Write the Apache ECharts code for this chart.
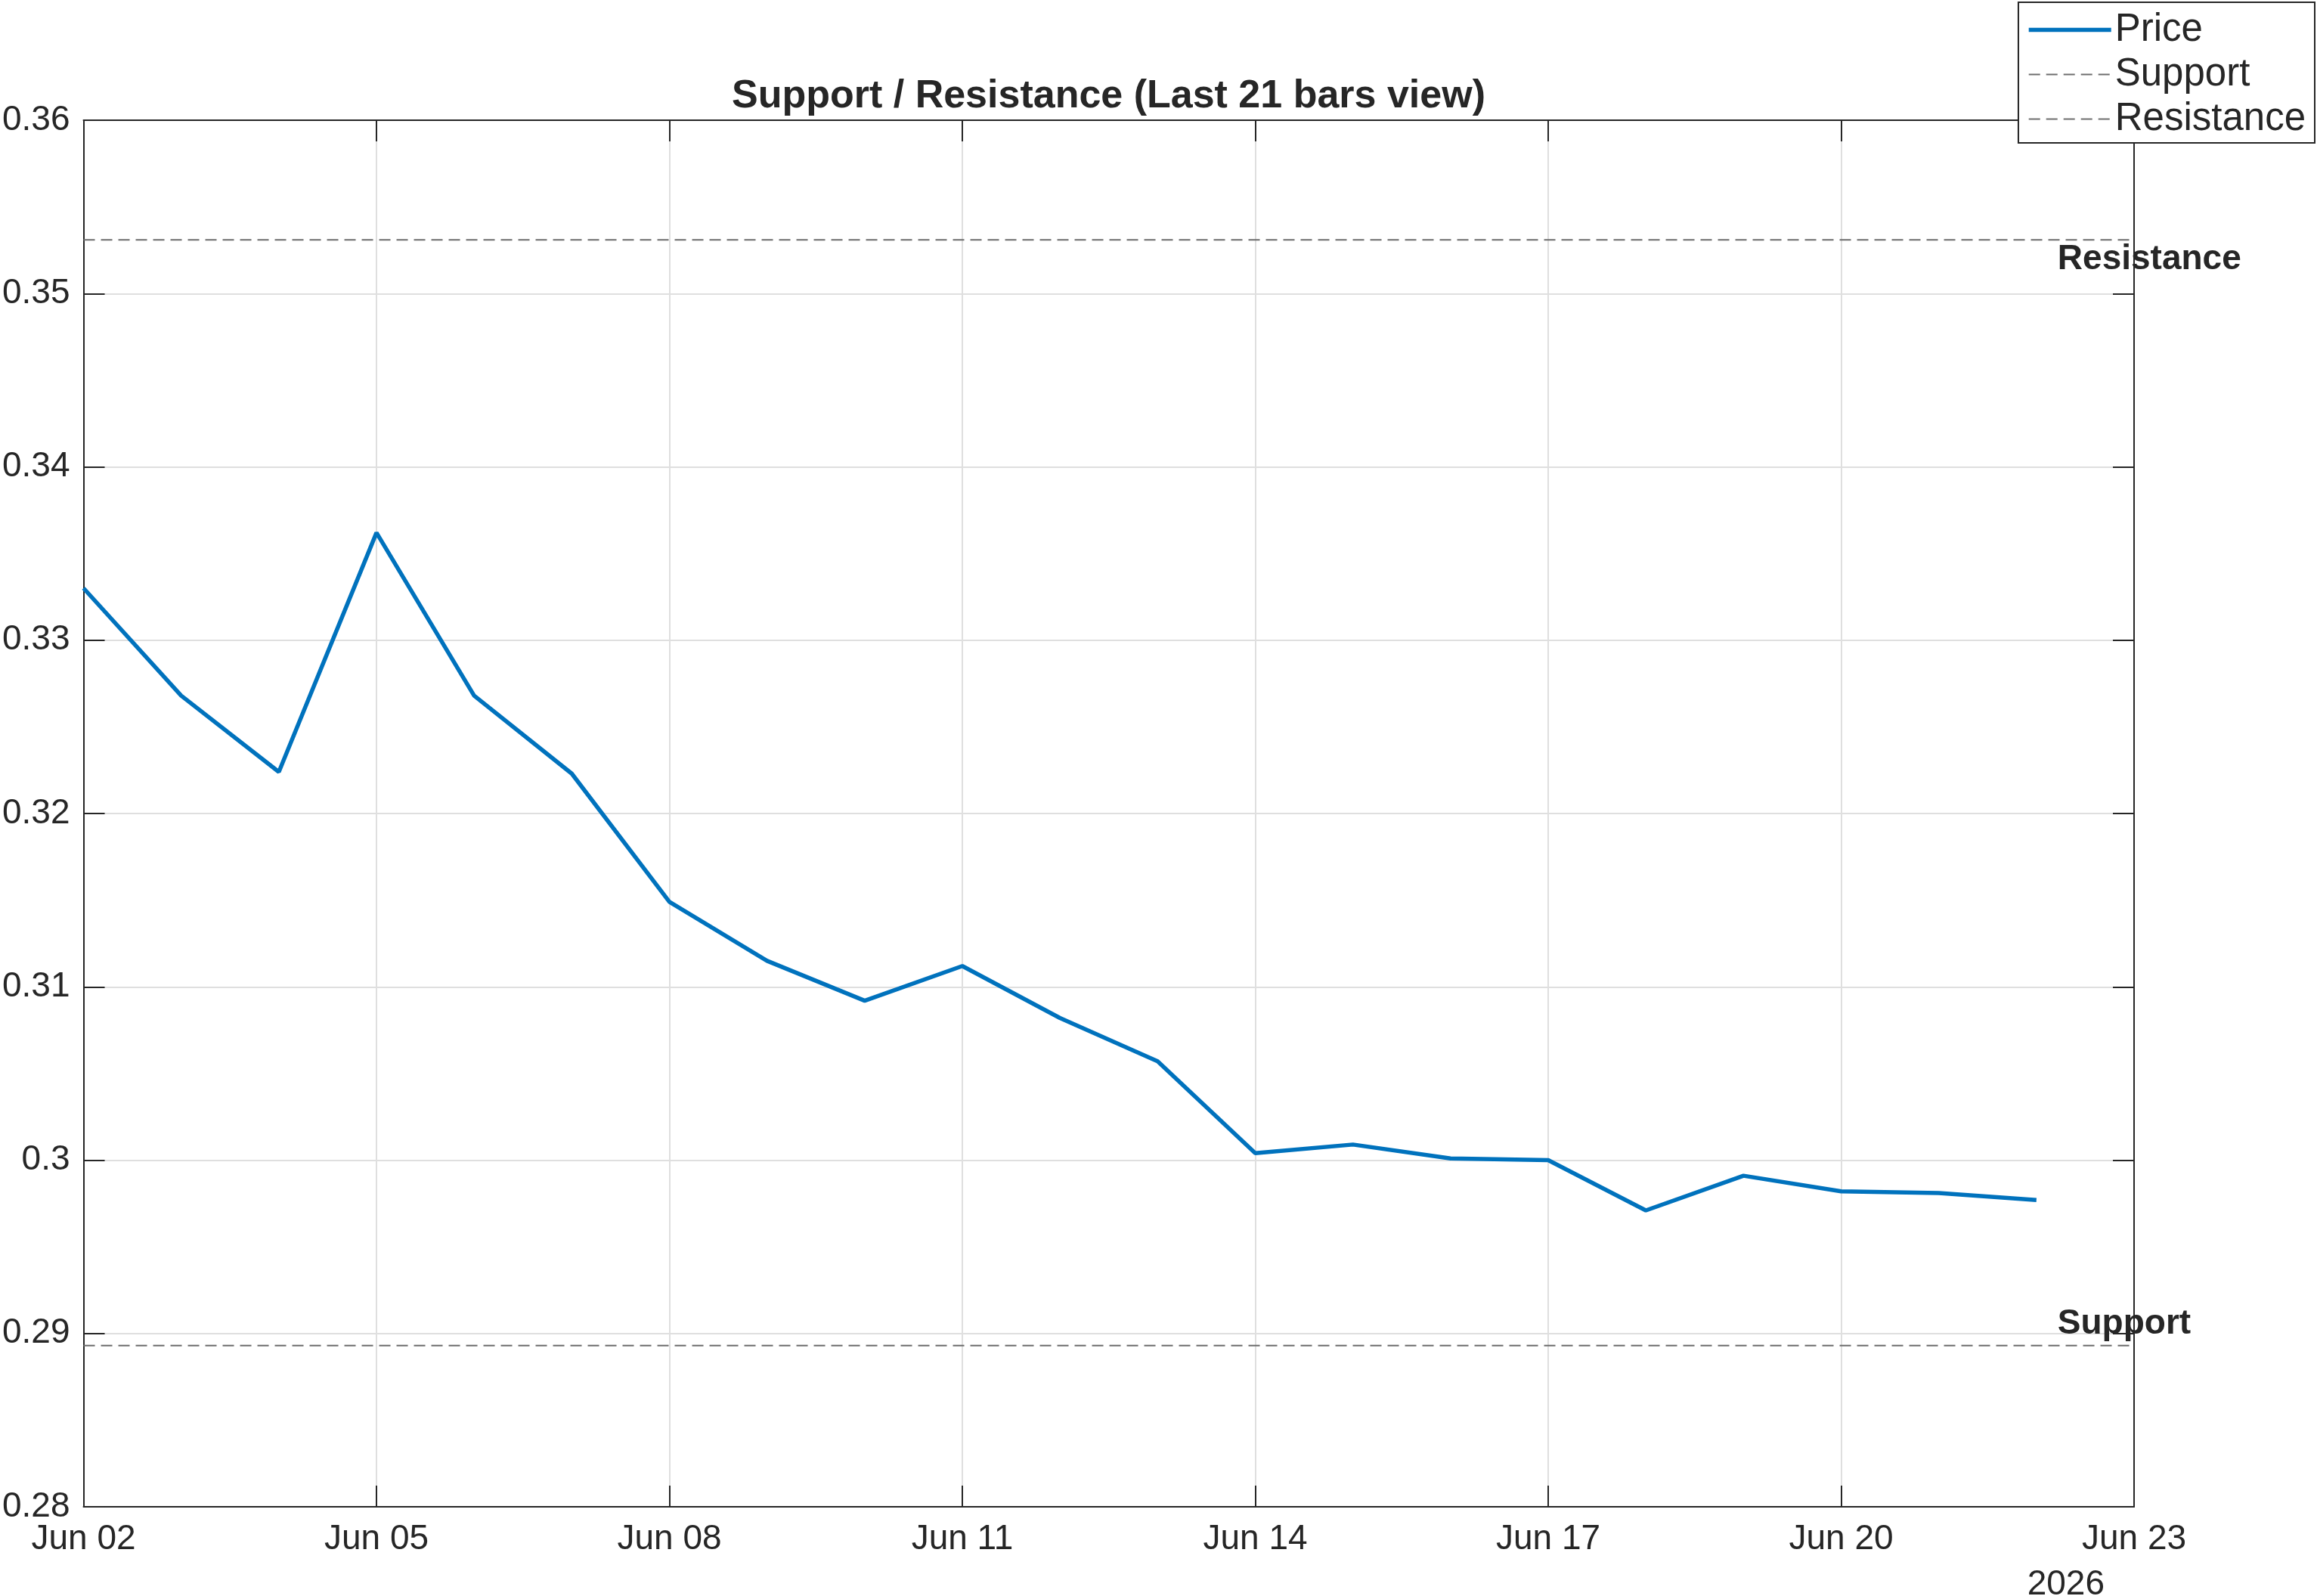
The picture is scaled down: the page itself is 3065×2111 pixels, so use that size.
<!DOCTYPE html>
<html>
<head>
<meta charset="utf-8">
<script src="https://cdn.jsdelivr.net/npm/echarts@6/dist/echarts.min.js"></script>
<style>
html,body{margin:0;padding:0;background:#fff;}
#chart{width:3065px;height:2111px;}
</style>
</head>
<body>
<div id="chart"></div>
<script>
// ---- data ----
const dates = ['2026-06-02','2026-06-03','2026-06-04','2026-06-05','2026-06-06','2026-06-07','2026-06-08',
  '2026-06-09','2026-06-10','2026-06-11','2026-06-12','2026-06-13','2026-06-14','2026-06-15',
  '2026-06-16','2026-06-17','2026-06-18','2026-06-19','2026-06-20','2026-06-21','2026-06-22'];
const price = [0.3330,0.3268,0.3224,0.3362,0.3268,0.3223,0.3149,
  0.3115,0.3092,0.3112,0.3082,0.3057,0.3004,0.3009,
  0.3001,0.3000,0.2971,0.2991,0.2982,0.2981,0.2977];
const supportLevel = 0.2893;
const resistanceLevel = 0.3531;
const axisStart = '2026-06-02';
const axisEnd = '2026-06-23';
const xTickLabels = ['Jun 02','Jun 05','Jun 08','Jun 11','Jun 14','Jun 17','Jun 20','Jun 23'];
const yearLabel = '2026';
const titleText = 'Support / Resistance (Last 21 bars view)';
const legendNames = ['Price', 'Support', 'Resistance'];

// ---- helpers ----
const DAY = 86400000;
const t0 = Date.parse(axisStart);
const dayOf = d => (Date.parse(d) - t0) / DAY;
const xMax = dayOf(axisEnd);
const lastDay = dayOf(dates[dates.length - 1]);
const priceData = dates.map((d, i) => [dayOf(d), price[i]]);

const FONT = '"Liberation Sans", Arial, Helvetica, sans-serif';
const TXT = '#262626';
const GRID = '#dfdfdf';
const BLUE = '#0072BD';
const DASH = '#6e6e6e';

const chart = echarts.init(document.getElementById('chart'));

const GRID_L = 110, GRID_R = 242, GRID_T = 159, GRID_B = 118;
const plotCenterX = GRID_L + (3065 - GRID_L - GRID_R) / 2;

const baseX = {
  type: 'value', min: 0, max: xMax, interval: 3,
  axisLine: { show: true, onZero: false, lineStyle: { color: TXT, width: 2 } },
  axisTick: { show: true, inside: true, length: 28, lineStyle: { color: TXT, width: 2 } },
};
const baseY = {
  type: 'value', min: 0.28, max: 0.36, interval: 0.01,
  axisLine: { show: true, onZero: false, lineStyle: { color: TXT, width: 2 } },
  axisTick: { show: true, inside: true, length: 28, lineStyle: { color: TXT, width: 2 } },
};

function levelLabel(text, dy, value) {
  return {
    symbol: 'circle', symbolSize: 0, silent: true,
    label: {
      show: true, position: 'right', distance: 28, offset: [0, dy],
      formatter: text, fontFamily: FONT, fontSize: 46, fontWeight: 'bold', color: TXT
    },
    data: [{ coord: [lastDay, value] }]
  };
}

chart.setOption({
  animation: false,
  backgroundColor: '#ffffff',
  textStyle: { fontFamily: FONT },
  title: {
    text: titleText, left: plotCenterX, textAlign: 'center', top: 102, padding: 0,
    textStyle: { fontFamily: FONT, fontSize: 52, fontWeight: 'bold', color: TXT }
  },
  grid: { left: GRID_L, right: GRID_R, top: GRID_T, bottom: GRID_B, containLabel: false },
  legend: {
    orient: 'vertical', right: 3, top: 3,
    padding: [11, 12, 6, 11],
    itemWidth: 109, itemHeight: 20, itemGap: 8,
    backgroundColor: '#ffffff', borderColor: TXT, borderWidth: 2, borderRadius: 0,
    textStyle: { fontFamily: FONT, fontSize: 51, color: TXT, lineHeight: 50 },
    data: [
      { name: legendNames[0], itemStyle: { opacity: 0 }, lineStyle: { color: BLUE, width: 5.5, type: 'solid' } },
      { name: legendNames[1], itemStyle: { opacity: 0 }, lineStyle: { color: DASH, width: 2, type: [15, 8] } },
      { name: legendNames[2], itemStyle: { opacity: 0 }, lineStyle: { color: DASH, width: 2, type: [15, 8] } }
    ]
  },
  xAxis: [
    Object.assign({}, baseX, {
      position: 'bottom',
      axisLabel: {
        show: true, margin: 20, fontFamily: FONT, fontSize: 46, color: TXT,
        formatter: v => xTickLabels[Math.round(v / 3)] || ''
      },
      splitLine: { show: true, lineStyle: { color: GRID, width: 2 } }
    }),
    Object.assign({}, baseX, {
      position: 'top',
      axisLabel: { show: false },
      splitLine: { show: false }
    })
  ],
  yAxis: [
    Object.assign({}, baseY, {
      position: 'left',
      axisLabel: {
        show: true, margin: 18, fontFamily: FONT, fontSize: 46, color: TXT,
        formatter: v => String(parseFloat(v.toFixed(4)))
      },
      splitLine: { show: true, lineStyle: { color: GRID, width: 2 } }
    }),
    Object.assign({}, baseY, {
      position: 'right',
      axisLabel: { show: false },
      splitLine: { show: false }
    })
  ],
  series: [
    {
      name: legendNames[0], type: 'line', xAxisIndex: 0, yAxisIndex: 0,
      data: priceData, showSymbol: false, symbol: 'none',
      lineStyle: { color: BLUE, width: 5.5 },
      itemStyle: { color: BLUE },
      z: 5
    },
    {
      name: legendNames[1], type: 'line', xAxisIndex: 0, yAxisIndex: 0,
      data: [[0, supportLevel], [xMax, supportLevel]], showSymbol: false, symbol: 'none',
      lineStyle: { color: DASH, width: 2, type: [15, 8] },
      itemStyle: { color: DASH },
      markPoint: levelLabel('Support', -28, supportLevel), z: 3
    },
    {
      name: legendNames[2], type: 'line', xAxisIndex: 0, yAxisIndex: 0,
      data: [[0, resistanceLevel], [xMax, resistanceLevel]], showSymbol: false, symbol: 'none',
      lineStyle: { color: DASH, width: 2, type: [15, 8] },
      itemStyle: { color: DASH },
      markPoint: levelLabel('Resistance', 26, resistanceLevel), z: 3
    }
  ],
  graphic: [{
    type: 'text', right: 281, top: 2073,
    style: { text: yearLabel, font: '46px ' + FONT, fill: TXT, textAlign: 'right' }
  }]
});
</script>
</body>
</html>
